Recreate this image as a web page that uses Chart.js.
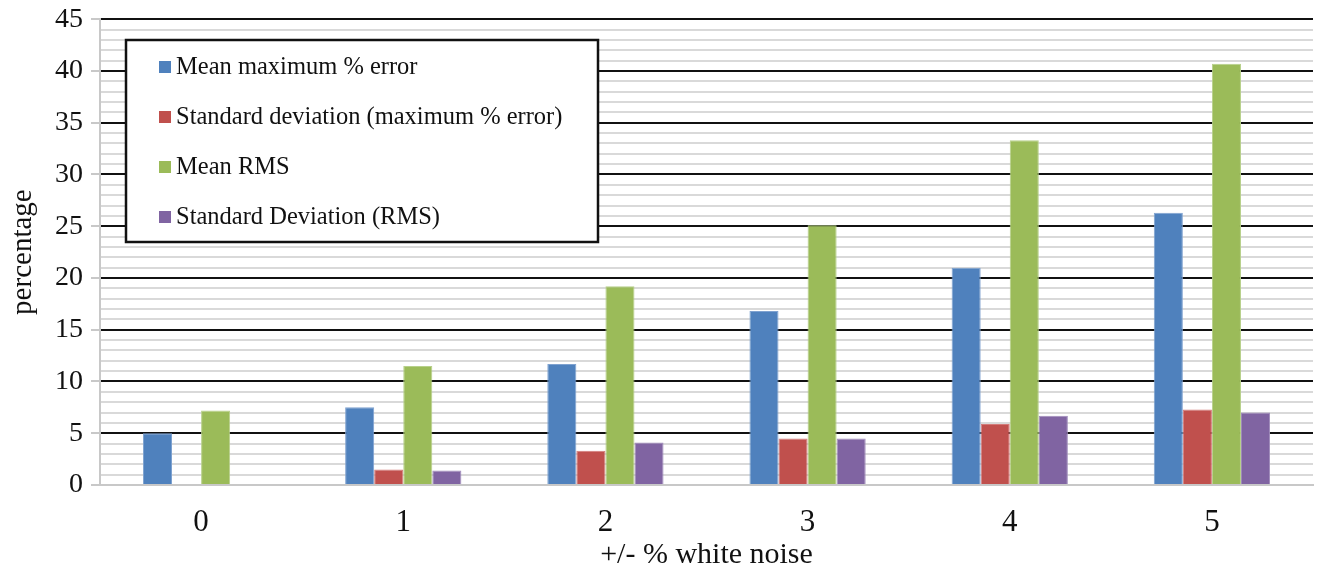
<!DOCTYPE html>
<html>
<head>
<meta charset="utf-8">
<script src="https://cdn.jsdelivr.net/npm/chart.js@4.4.1/dist/chart.umd.min.js"></script>
<style>
  html, body { margin: 0; padding: 0; background: #fff; }
  #wrap { width: 1324px; height: 573px; }
</style>
</head>
<body>
<div id="wrap"><canvas id="c" width="1324" height="573"></canvas></div>
<script>
// Noise levels along the x axis
const noiseLevels = ['0', '1', '2', '3', '4', '5'];

// Series labels
const seriesNames = [
  'Mean maximum % error',
  'Standard deviation (maximum % error)',
  'Mean RMS',
  'Standard Deviation (RMS)'
];

// Series values (percentage)
const meanMaxError = [5.0, 7.5, 11.7, 16.8, 21.0, 26.3];
const sdMaxError   = [0,   1.5,  3.3,  4.5,  5.9,  7.3];
const meanRMS      = [7.2, 11.5, 19.2, 25.1, 33.3, 40.7];
const sdRMS        = [0,   1.4,  4.1,  4.5,  6.7,  7.0];

const seriesColors = ['#4f81bd', '#c0504d', '#9bbb59', '#8064a2'];
const seriesEdges  = ['#7fa2d0', '#d47b79', '#b7d08a', '#a08cbc'];

const serif = "'Liberation Serif', 'Times New Roman', serif";

// Boxed legend drawn inside the plot area
const boxedLegend = {
  id: 'boxedLegend',
  afterDatasetsDraw(chart) {
    const ctx = chart.ctx;
    const x = 126, y = 40, w = 472, h = 202;
    ctx.save();
    ctx.fillStyle = '#ffffff';
    ctx.fillRect(x, y, w, h);
    ctx.strokeStyle = '#111111';
    ctx.lineWidth = 2.5;
    ctx.strokeRect(x, y, w, h);
    ctx.font = '24.5px ' + serif;
    ctx.textBaseline = 'middle';
    chart.data.datasets.forEach((ds, i) => {
      const cy = 67 + i * 50;
      ctx.fillStyle = ds.backgroundColor;
      ctx.fillRect(159, cy - 6, 12, 12);
      ctx.fillStyle = '#111111';
      ctx.fillText(ds.label, 176, cy + 1);
    });
    ctx.restore();
  }
};

const values = [meanMaxError, sdMaxError, meanRMS, sdRMS];

new Chart(document.getElementById('c'), {
  type: 'bar',
  data: {
    labels: noiseLevels,
    datasets: values.map((v, i) => ({
      label: seriesNames[i],
      data: v,
      backgroundColor: seriesColors[i],
      borderColor: seriesEdges[i],
      borderWidth: 1
    }))
  },
  options: {
    responsive: false,
    animation: false,
    events: [],
    layout: { padding: { top: 0, right: 11, left: 0, bottom: 0 } },
    datasets: { bar: { barPercentage: 1, categoryPercentage: 0.575 } },
    plugins: { legend: { display: false }, tooltip: { enabled: false } },
    scales: {
      x: {
        grid: { display: false, drawTicks: false },
        border: { display: true, color: '#c8c8c8', width: 2 },
        ticks: { color: '#111', font: { family: serif, size: 31 }, padding: 19 },
        title: { display: true, text: '+/- % white noise', color: '#111',
                 font: { family: serif, size: 30 }, padding: { top: 2, bottom: 0 } },
        afterFit(scale) { scale.height = 88; }
      },
      y: {
        min: 0, max: 45,
        grid: {
          color: c => c.tick.value === 0 ? '#c8c8c8' : (c.tick.value % 5 === 0 ? '#111111' : '#d9d9d9'),
          lineWidth: 2,
          tickColor: c => c.tick.value % 5 === 0 ? '#c8c8c8' : 'rgba(0,0,0,0)',
          tickLength: 9
        },
        border: { display: true, color: '#c8c8c8', width: 2 },
        ticks: {
          stepSize: 1, autoSkip: false, color: '#111', padding: 8,
          font: { family: serif, size: 28, lineHeight: 0.8 },
          callback: v => (v % 5 === 0 ? String(v) : '')
        },
        title: { display: true, text: 'percentage', color: '#111',
                 font: { family: serif, size: 29 }, padding: { top: 6, bottom: 4 } },
        afterFit(scale) { scale.width = 100; }
      }
    }
  },
  plugins: [boxedLegend]
});
</script>
</body>
</html>
